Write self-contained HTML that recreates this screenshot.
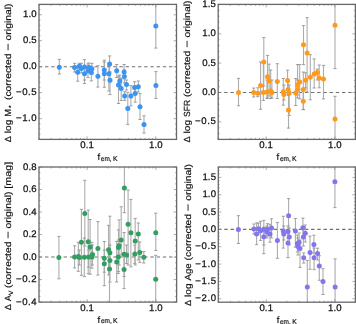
<!DOCTYPE html>
<html><head><meta charset="utf-8"><style>
html,body{margin:0;padding:0;background:#fff;width:356px;height:324px;overflow:hidden}
svg{-webkit-font-smoothing:antialiased;will-change:transform} svg text{font-family:"Liberation Sans", sans-serif;fill:#111;text-rendering:geometricPrecision} .tl{stroke:#111;stroke-width:0.25} .yl{stroke:#111;stroke-width:0.18}
</style></head><body>
<svg width="356" height="324" viewBox="0 0 356 324" style="display:block">
<rect width="356" height="324" fill="#fff"/>
<g><line x1="39.0" y1="66.71" x2="176.5" y2="66.71" stroke="#707070" stroke-width="1.1" stroke-dasharray="3.4 2.8" stroke-dashoffset="0.2"/><line x1="59.3" y1="59.3" x2="59.3" y2="74.0" stroke="#acacac" stroke-width="1.1"/><line x1="57.70" y1="59.3" x2="60.90" y2="59.3" stroke="#8a8a8a" stroke-width="0.8"/><line x1="57.70" y1="74.0" x2="60.90" y2="74.0" stroke="#8a8a8a" stroke-width="0.8"/><line x1="74.6" y1="63.3" x2="74.6" y2="72" stroke="#acacac" stroke-width="1.1"/><line x1="73.00" y1="63.3" x2="76.20" y2="63.3" stroke="#8a8a8a" stroke-width="0.8"/><line x1="73.00" y1="72" x2="76.20" y2="72" stroke="#8a8a8a" stroke-width="0.8"/><line x1="77.7" y1="66" x2="77.7" y2="81.2" stroke="#acacac" stroke-width="1.1"/><line x1="76.10" y1="66" x2="79.30" y2="66" stroke="#8a8a8a" stroke-width="0.8"/><line x1="76.10" y1="81.2" x2="79.30" y2="81.2" stroke="#8a8a8a" stroke-width="0.8"/><line x1="79.3" y1="63.3" x2="79.3" y2="70" stroke="#acacac" stroke-width="1.1"/><line x1="77.70" y1="63.3" x2="80.90" y2="63.3" stroke="#8a8a8a" stroke-width="0.8"/><line x1="77.70" y1="70" x2="80.90" y2="70" stroke="#8a8a8a" stroke-width="0.8"/><line x1="81.4" y1="63.3" x2="81.4" y2="73" stroke="#acacac" stroke-width="1.1"/><line x1="79.80" y1="63.3" x2="83.00" y2="63.3" stroke="#8a8a8a" stroke-width="0.8"/><line x1="79.80" y1="73" x2="83.00" y2="73" stroke="#8a8a8a" stroke-width="0.8"/><line x1="84.5" y1="59.6" x2="84.5" y2="83.6" stroke="#acacac" stroke-width="1.1"/><line x1="82.90" y1="59.6" x2="86.10" y2="59.6" stroke="#8a8a8a" stroke-width="0.8"/><line x1="82.90" y1="83.6" x2="86.10" y2="83.6" stroke="#8a8a8a" stroke-width="0.8"/><line x1="84.5" y1="68" x2="84.5" y2="80" stroke="#acacac" stroke-width="1.1"/><line x1="82.90" y1="68" x2="86.10" y2="68" stroke="#8a8a8a" stroke-width="0.8"/><line x1="82.90" y1="80" x2="86.10" y2="80" stroke="#8a8a8a" stroke-width="0.8"/><line x1="88.0" y1="63.9" x2="88.0" y2="77.5" stroke="#acacac" stroke-width="1.1"/><line x1="86.40" y1="63.9" x2="89.60" y2="63.9" stroke="#8a8a8a" stroke-width="0.8"/><line x1="86.40" y1="77.5" x2="89.60" y2="77.5" stroke="#8a8a8a" stroke-width="0.8"/><line x1="88.8" y1="63" x2="88.8" y2="72" stroke="#acacac" stroke-width="1.1"/><line x1="87.20" y1="63" x2="90.40" y2="63" stroke="#8a8a8a" stroke-width="0.8"/><line x1="87.20" y1="72" x2="90.40" y2="72" stroke="#8a8a8a" stroke-width="0.8"/><line x1="91.3" y1="66" x2="91.3" y2="80.9" stroke="#acacac" stroke-width="1.1"/><line x1="89.70" y1="66" x2="92.90" y2="66" stroke="#8a8a8a" stroke-width="0.8"/><line x1="89.70" y1="80.9" x2="92.90" y2="80.9" stroke="#8a8a8a" stroke-width="0.8"/><line x1="91.9" y1="63.3" x2="91.9" y2="74" stroke="#acacac" stroke-width="1.1"/><line x1="90.30" y1="63.3" x2="93.50" y2="63.3" stroke="#8a8a8a" stroke-width="0.8"/><line x1="90.30" y1="74" x2="93.50" y2="74" stroke="#8a8a8a" stroke-width="0.8"/><line x1="97.9" y1="65.7" x2="97.9" y2="87.1" stroke="#acacac" stroke-width="1.1"/><line x1="96.30" y1="65.7" x2="99.50" y2="65.7" stroke="#8a8a8a" stroke-width="0.8"/><line x1="96.30" y1="87.1" x2="99.50" y2="87.1" stroke="#8a8a8a" stroke-width="0.8"/><line x1="104.3" y1="60.2" x2="104.3" y2="80" stroke="#acacac" stroke-width="1.1"/><line x1="102.70" y1="60.2" x2="105.90" y2="60.2" stroke="#8a8a8a" stroke-width="0.8"/><line x1="102.70" y1="80" x2="105.90" y2="80" stroke="#8a8a8a" stroke-width="0.8"/><line x1="104.3" y1="62" x2="104.3" y2="87.3" stroke="#acacac" stroke-width="1.1"/><line x1="102.70" y1="62" x2="105.90" y2="62" stroke="#8a8a8a" stroke-width="0.8"/><line x1="102.70" y1="87.3" x2="105.90" y2="87.3" stroke="#8a8a8a" stroke-width="0.8"/><line x1="109.6" y1="55.9" x2="109.6" y2="72" stroke="#acacac" stroke-width="1.1"/><line x1="108.00" y1="55.9" x2="111.20" y2="55.9" stroke="#8a8a8a" stroke-width="0.8"/><line x1="108.00" y1="72" x2="111.20" y2="72" stroke="#8a8a8a" stroke-width="0.8"/><line x1="108.9" y1="66" x2="108.9" y2="91" stroke="#acacac" stroke-width="1.1"/><line x1="107.30" y1="66" x2="110.50" y2="66" stroke="#8a8a8a" stroke-width="0.8"/><line x1="107.30" y1="91" x2="110.50" y2="91" stroke="#8a8a8a" stroke-width="0.8"/><line x1="110.0" y1="72" x2="110.0" y2="94.6" stroke="#acacac" stroke-width="1.1"/><line x1="108.40" y1="72" x2="111.60" y2="72" stroke="#8a8a8a" stroke-width="0.8"/><line x1="108.40" y1="94.6" x2="111.60" y2="94.6" stroke="#8a8a8a" stroke-width="0.8"/><line x1="116.7" y1="64.5" x2="116.7" y2="77.5" stroke="#acacac" stroke-width="1.1"/><line x1="115.10" y1="64.5" x2="118.30" y2="64.5" stroke="#8a8a8a" stroke-width="0.8"/><line x1="115.10" y1="77.5" x2="118.30" y2="77.5" stroke="#8a8a8a" stroke-width="0.8"/><line x1="119.8" y1="75" x2="119.8" y2="88" stroke="#acacac" stroke-width="1.1"/><line x1="118.20" y1="75" x2="121.40" y2="75" stroke="#8a8a8a" stroke-width="0.8"/><line x1="118.20" y1="88" x2="121.40" y2="88" stroke="#8a8a8a" stroke-width="0.8"/><line x1="118.5" y1="76" x2="118.5" y2="103.5" stroke="#acacac" stroke-width="1.1"/><line x1="116.90" y1="76" x2="120.10" y2="76" stroke="#8a8a8a" stroke-width="0.8"/><line x1="116.90" y1="103.5" x2="120.10" y2="103.5" stroke="#8a8a8a" stroke-width="0.8"/><line x1="121.2" y1="78" x2="121.2" y2="100.4" stroke="#acacac" stroke-width="1.1"/><line x1="119.60" y1="78" x2="122.80" y2="78" stroke="#8a8a8a" stroke-width="0.8"/><line x1="119.60" y1="100.4" x2="122.80" y2="100.4" stroke="#8a8a8a" stroke-width="0.8"/><line x1="124.1" y1="64.5" x2="124.1" y2="79" stroke="#acacac" stroke-width="1.1"/><line x1="122.50" y1="64.5" x2="125.70" y2="64.5" stroke="#8a8a8a" stroke-width="0.8"/><line x1="122.50" y1="79" x2="125.70" y2="79" stroke="#8a8a8a" stroke-width="0.8"/><line x1="124.4" y1="70" x2="124.4" y2="83" stroke="#acacac" stroke-width="1.1"/><line x1="122.80" y1="70" x2="126.00" y2="70" stroke="#8a8a8a" stroke-width="0.8"/><line x1="122.80" y1="83" x2="126.00" y2="83" stroke="#8a8a8a" stroke-width="0.8"/><line x1="126.5" y1="80" x2="126.5" y2="90" stroke="#acacac" stroke-width="1.1"/><line x1="124.90" y1="80" x2="128.10" y2="80" stroke="#8a8a8a" stroke-width="0.8"/><line x1="124.90" y1="90" x2="128.10" y2="90" stroke="#8a8a8a" stroke-width="0.8"/><line x1="124.7" y1="91.7" x2="124.7" y2="100.4" stroke="#acacac" stroke-width="1.1"/><line x1="123.10" y1="91.7" x2="126.30" y2="91.7" stroke="#8a8a8a" stroke-width="0.8"/><line x1="123.10" y1="100.4" x2="126.30" y2="100.4" stroke="#8a8a8a" stroke-width="0.8"/><line x1="130.9" y1="85.6" x2="130.9" y2="105.9" stroke="#acacac" stroke-width="1.1"/><line x1="129.30" y1="85.6" x2="132.50" y2="85.6" stroke="#8a8a8a" stroke-width="0.8"/><line x1="129.30" y1="105.9" x2="132.50" y2="105.9" stroke="#8a8a8a" stroke-width="0.8"/><line x1="127.8" y1="92.3" x2="127.8" y2="124.4" stroke="#acacac" stroke-width="1.1"/><line x1="126.20" y1="92.3" x2="129.40" y2="92.3" stroke="#8a8a8a" stroke-width="0.8"/><line x1="126.20" y1="124.4" x2="129.40" y2="124.4" stroke="#8a8a8a" stroke-width="0.8"/><line x1="134.6" y1="81.7" x2="134.6" y2="93" stroke="#acacac" stroke-width="1.1"/><line x1="133.00" y1="81.7" x2="136.20" y2="81.7" stroke="#8a8a8a" stroke-width="0.8"/><line x1="133.00" y1="93" x2="136.20" y2="93" stroke="#8a8a8a" stroke-width="0.8"/><line x1="138.3" y1="81" x2="138.3" y2="92" stroke="#acacac" stroke-width="1.1"/><line x1="136.70" y1="81" x2="139.90" y2="81" stroke="#8a8a8a" stroke-width="0.8"/><line x1="136.70" y1="92" x2="139.90" y2="92" stroke="#8a8a8a" stroke-width="0.8"/><line x1="135.2" y1="86" x2="135.2" y2="102.2" stroke="#acacac" stroke-width="1.1"/><line x1="133.60" y1="86" x2="136.80" y2="86" stroke="#8a8a8a" stroke-width="0.8"/><line x1="133.60" y1="102.2" x2="136.80" y2="102.2" stroke="#8a8a8a" stroke-width="0.8"/><line x1="140.0" y1="93.6" x2="140.0" y2="119.5" stroke="#acacac" stroke-width="1.1"/><line x1="138.40" y1="93.6" x2="141.60" y2="93.6" stroke="#8a8a8a" stroke-width="0.8"/><line x1="138.40" y1="119.5" x2="141.60" y2="119.5" stroke="#8a8a8a" stroke-width="0.8"/><line x1="144.0" y1="115.8" x2="144.0" y2="133" stroke="#acacac" stroke-width="1.1"/><line x1="142.40" y1="115.8" x2="145.60" y2="115.8" stroke="#8a8a8a" stroke-width="0.8"/><line x1="142.40" y1="133" x2="145.60" y2="133" stroke="#8a8a8a" stroke-width="0.8"/><line x1="155.9" y1="71.6" x2="155.9" y2="98.5" stroke="#acacac" stroke-width="1.1"/><line x1="154.30" y1="71.6" x2="157.50" y2="71.6" stroke="#8a8a8a" stroke-width="0.8"/><line x1="154.30" y1="98.5" x2="157.50" y2="98.5" stroke="#8a8a8a" stroke-width="0.8"/><line x1="155.8" y1="4.4" x2="155.8" y2="48.1" stroke="#acacac" stroke-width="1.1"/><line x1="154.20" y1="48.1" x2="157.40" y2="48.1" stroke="#8a8a8a" stroke-width="0.8"/><circle cx="59.3" cy="67.2" r="2.5" fill="#3a94f0"/><circle cx="74.6" cy="67.6" r="2.5" fill="#3a94f0"/><circle cx="77.7" cy="72.3" r="2.5" fill="#3a94f0"/><circle cx="79.3" cy="66.3" r="2.5" fill="#3a94f0"/><circle cx="81.4" cy="68.6" r="2.5" fill="#3a94f0"/><circle cx="84.5" cy="67.0" r="2.5" fill="#3a94f0"/><circle cx="84.5" cy="73.8" r="2.5" fill="#3a94f0"/><circle cx="88.0" cy="70.7" r="2.5" fill="#3a94f0"/><circle cx="88.8" cy="67.6" r="2.5" fill="#3a94f0"/><circle cx="91.3" cy="72.5" r="2.5" fill="#3a94f0"/><circle cx="91.9" cy="68.8" r="2.5" fill="#3a94f0"/><circle cx="97.9" cy="76.2" r="2.5" fill="#3a94f0"/><circle cx="104.3" cy="70.0" r="2.5" fill="#3a94f0"/><circle cx="104.3" cy="73.8" r="2.5" fill="#3a94f0"/><circle cx="109.6" cy="64.1" r="2.5" fill="#3a94f0"/><circle cx="108.9" cy="73.8" r="2.5" fill="#3a94f0"/><circle cx="110.0" cy="80.3" r="2.5" fill="#3a94f0"/><circle cx="116.7" cy="70.7" r="2.5" fill="#3a94f0"/><circle cx="119.8" cy="81.0" r="2.5" fill="#3a94f0"/><circle cx="118.5" cy="84.9" r="2.5" fill="#3a94f0"/><circle cx="121.2" cy="88.4" r="2.5" fill="#3a94f0"/><circle cx="124.1" cy="71.9" r="2.5" fill="#3a94f0"/><circle cx="124.4" cy="76.5" r="2.5" fill="#3a94f0"/><circle cx="126.5" cy="84.5" r="2.5" fill="#3a94f0"/><circle cx="124.7" cy="96.0" r="2.5" fill="#3a94f0"/><circle cx="130.9" cy="96.0" r="2.5" fill="#3a94f0"/><circle cx="127.8" cy="108.4" r="2.5" fill="#3a94f0"/><circle cx="134.6" cy="87.5" r="2.5" fill="#3a94f0"/><circle cx="138.3" cy="86.8" r="2.5" fill="#3a94f0"/><circle cx="135.2" cy="93.6" r="2.5" fill="#3a94f0"/><circle cx="140.0" cy="106.7" r="2.5" fill="#3a94f0"/><circle cx="144.0" cy="124.4" r="2.5" fill="#3a94f0"/><circle cx="155.9" cy="85.6" r="2.5" fill="#3a94f0"/><circle cx="155.8" cy="25.9" r="2.5" fill="#3a94f0"/><path d="M39.0 139.40h1.5M176.5 139.40h-1.5M39.0 134.21h1.5M176.5 134.21h-1.5M39.0 129.02h1.5M176.5 129.02h-1.5M39.0 123.82h1.5M176.5 123.82h-1.5M39.0 118.63h3.0M176.5 118.63h-3.0M39.0 113.44h1.5M176.5 113.44h-1.5M39.0 108.25h1.5M176.5 108.25h-1.5M39.0 103.05h1.5M176.5 103.05h-1.5M39.0 97.86h1.5M176.5 97.86h-1.5M39.0 92.67h3.0M176.5 92.67h-3.0M39.0 87.48h1.5M176.5 87.48h-1.5M39.0 82.28h1.5M176.5 82.28h-1.5M39.0 77.09h1.5M176.5 77.09h-1.5M39.0 71.90h1.5M176.5 71.90h-1.5M39.0 66.71h3.0M176.5 66.71h-3.0M39.0 61.52h1.5M176.5 61.52h-1.5M39.0 56.32h1.5M176.5 56.32h-1.5M39.0 51.13h1.5M176.5 51.13h-1.5M39.0 45.94h1.5M176.5 45.94h-1.5M39.0 40.75h3.0M176.5 40.75h-3.0M39.0 35.55h1.5M176.5 35.55h-1.5M39.0 30.36h1.5M176.5 30.36h-1.5M39.0 25.17h1.5M176.5 25.17h-1.5M39.0 19.98h1.5M176.5 19.98h-1.5M39.0 14.78h3.0M176.5 14.78h-3.0M39.0 9.59h1.5M176.5 9.59h-1.5M39.0 4.40h1.5M176.5 4.40h-1.5M39.00 139.4v-1.5M39.00 4.4v1.5M51.11 139.4v-1.5M51.11 4.4v1.5M59.70 139.4v-1.5M59.70 4.4v1.5M66.36 139.4v-1.5M66.36 4.4v1.5M71.80 139.4v-1.5M71.80 4.4v1.5M76.40 139.4v-1.5M76.40 4.4v1.5M80.39 139.4v-1.5M80.39 4.4v1.5M83.91 139.4v-1.5M83.91 4.4v1.5M87.05 139.4v-3.0M87.05 4.4v3.0M107.75 139.4v-1.5M107.75 4.4v1.5M119.86 139.4v-1.5M119.86 4.4v1.5M128.45 139.4v-1.5M128.45 4.4v1.5M135.11 139.4v-1.5M135.11 4.4v1.5M140.55 139.4v-1.5M140.55 4.4v1.5M145.15 139.4v-1.5M145.15 4.4v1.5M149.14 139.4v-1.5M149.14 4.4v1.5M152.66 139.4v-1.5M152.66 4.4v1.5M155.80 139.4v-3.0M155.80 4.4v3.0M176.50 139.4v-1.5M176.50 4.4v1.5" stroke="#8a8a8a" stroke-width="0.7" fill="none"/><rect x="39.0" y="4.4" width="137.5" height="135.0" fill="none" stroke="#686868" stroke-width="1.3"/><text x="36.70" y="17.28" text-anchor="end" font-size="9.6" textLength="13.61" lengthAdjust="spacing" class="tl">1.0</text><text x="36.70" y="43.25" text-anchor="end" font-size="9.6" textLength="13.61" lengthAdjust="spacing" class="tl">0.5</text><text x="36.70" y="69.21" text-anchor="end" font-size="9.6" textLength="13.61" lengthAdjust="spacing" class="tl">0.0</text><text x="36.70" y="95.17" text-anchor="end" font-size="9.6" textLength="20.78" lengthAdjust="spacing" class="tl">−0.5</text><text x="36.70" y="121.13" text-anchor="end" font-size="9.6" textLength="20.78" lengthAdjust="spacing" class="tl">−1.0</text><text x="87.05" y="148.30" text-anchor="middle" font-size="9.6" textLength="13.61" lengthAdjust="spacing" class="tl">0.1</text><text x="155.80" y="148.30" text-anchor="middle" font-size="9.6" textLength="13.61" lengthAdjust="spacing" class="tl">1.0</text><text x="97.55" y="160.00" font-size="9.4" class="yl">f</text><text x="100.85" y="160.70" font-size="7.0" textLength="10.8" lengthAdjust="spacingAndGlyphs" class="yl">em,</text><text x="113.05" y="160.70" font-size="7.0" textLength="4.6" lengthAdjust="spacingAndGlyphs" class="yl">K</text><g transform="translate(11.20,142.20) rotate(-90)"><text x="0.00" y="0" font-size="8.86" textLength="6.12" lengthAdjust="spacingAndGlyphs" class="yl">Δ</text><text x="8.97" y="0" font-size="8.86" textLength="13.64" lengthAdjust="spacingAndGlyphs" class="yl">log</text><text x="25.46" y="0" font-size="8.86" textLength="7.72" lengthAdjust="spacingAndGlyphs" class="yl">M</text><text x="33.56" y="1.0" font-size="6.65" textLength="4.20" lengthAdjust="spacingAndGlyphs" class="yl">⋆</text><text x="42.24" y="0" font-size="8.86" textLength="46.37" lengthAdjust="spacingAndGlyphs" class="yl">(corrected</text><text x="91.46" y="0" font-size="8.86" textLength="7.50" lengthAdjust="spacingAndGlyphs" class="yl">−</text><text x="101.80" y="0" font-size="8.86" textLength="36.94" lengthAdjust="spacingAndGlyphs" class="yl">original)</text></g></g>
<g><line x1="218.2" y1="92.44" x2="355.4" y2="92.44" stroke="#707070" stroke-width="1.1" stroke-dasharray="3.4 2.8" stroke-dashoffset="0.2"/><line x1="238.5" y1="78.4" x2="238.5" y2="105.8" stroke="#acacac" stroke-width="1.1"/><line x1="236.90" y1="78.4" x2="240.10" y2="78.4" stroke="#8a8a8a" stroke-width="0.8"/><line x1="236.90" y1="105.8" x2="240.10" y2="105.8" stroke="#8a8a8a" stroke-width="0.8"/><line x1="253.7" y1="88" x2="253.7" y2="97" stroke="#acacac" stroke-width="1.1"/><line x1="252.10" y1="88" x2="255.30" y2="88" stroke="#8a8a8a" stroke-width="0.8"/><line x1="252.10" y1="97" x2="255.30" y2="97" stroke="#8a8a8a" stroke-width="0.8"/><line x1="257.8" y1="87.8" x2="257.8" y2="96.7" stroke="#acacac" stroke-width="1.1"/><line x1="256.20" y1="87.8" x2="259.40" y2="87.8" stroke="#8a8a8a" stroke-width="0.8"/><line x1="256.20" y1="96.7" x2="259.40" y2="96.7" stroke="#8a8a8a" stroke-width="0.8"/><line x1="260.6" y1="62" x2="260.6" y2="109.3" stroke="#acacac" stroke-width="1.1"/><line x1="259.00" y1="62" x2="262.20" y2="62" stroke="#8a8a8a" stroke-width="0.8"/><line x1="259.00" y1="109.3" x2="262.20" y2="109.3" stroke="#8a8a8a" stroke-width="0.8"/><line x1="263.4" y1="63.5" x2="263.4" y2="100.4" stroke="#acacac" stroke-width="1.1"/><line x1="261.80" y1="63.5" x2="265.00" y2="63.5" stroke="#8a8a8a" stroke-width="0.8"/><line x1="261.80" y1="100.4" x2="265.00" y2="100.4" stroke="#8a8a8a" stroke-width="0.8"/><line x1="263.8" y1="37.6" x2="263.8" y2="86" stroke="#acacac" stroke-width="1.1"/><line x1="262.20" y1="37.6" x2="265.40" y2="37.6" stroke="#8a8a8a" stroke-width="0.8"/><line x1="262.20" y1="86" x2="265.40" y2="86" stroke="#8a8a8a" stroke-width="0.8"/><line x1="267.0" y1="80" x2="267.0" y2="98.5" stroke="#acacac" stroke-width="1.1"/><line x1="265.40" y1="80" x2="268.60" y2="80" stroke="#8a8a8a" stroke-width="0.8"/><line x1="265.40" y1="98.5" x2="268.60" y2="98.5" stroke="#8a8a8a" stroke-width="0.8"/><line x1="267.5" y1="55.4" x2="267.5" y2="98" stroke="#acacac" stroke-width="1.1"/><line x1="265.90" y1="55.4" x2="269.10" y2="55.4" stroke="#8a8a8a" stroke-width="0.8"/><line x1="265.90" y1="98" x2="269.10" y2="98" stroke="#8a8a8a" stroke-width="0.8"/><line x1="269.1" y1="64.1" x2="269.1" y2="96" stroke="#acacac" stroke-width="1.1"/><line x1="267.50" y1="64.1" x2="270.70" y2="64.1" stroke="#8a8a8a" stroke-width="0.8"/><line x1="267.50" y1="96" x2="270.70" y2="96" stroke="#8a8a8a" stroke-width="0.8"/><line x1="270.7" y1="70" x2="270.7" y2="98.5" stroke="#acacac" stroke-width="1.1"/><line x1="269.10" y1="70" x2="272.30" y2="70" stroke="#8a8a8a" stroke-width="0.8"/><line x1="269.10" y1="98.5" x2="272.30" y2="98.5" stroke="#8a8a8a" stroke-width="0.8"/><line x1="271.9" y1="80" x2="271.9" y2="98" stroke="#acacac" stroke-width="1.1"/><line x1="270.30" y1="80" x2="273.50" y2="80" stroke="#8a8a8a" stroke-width="0.8"/><line x1="270.30" y1="98" x2="273.50" y2="98" stroke="#8a8a8a" stroke-width="0.8"/><line x1="277.3" y1="63.7" x2="277.3" y2="98.5" stroke="#acacac" stroke-width="1.1"/><line x1="275.70" y1="63.7" x2="278.90" y2="63.7" stroke="#8a8a8a" stroke-width="0.8"/><line x1="275.70" y1="98.5" x2="278.90" y2="98.5" stroke="#8a8a8a" stroke-width="0.8"/><line x1="283.3" y1="78.5" x2="283.3" y2="105.2" stroke="#acacac" stroke-width="1.1"/><line x1="281.70" y1="78.5" x2="284.90" y2="78.5" stroke="#8a8a8a" stroke-width="0.8"/><line x1="281.70" y1="105.2" x2="284.90" y2="105.2" stroke="#8a8a8a" stroke-width="0.8"/><line x1="283.9" y1="85" x2="283.9" y2="100" stroke="#acacac" stroke-width="1.1"/><line x1="282.30" y1="85" x2="285.50" y2="85" stroke="#8a8a8a" stroke-width="0.8"/><line x1="282.30" y1="100" x2="285.50" y2="100" stroke="#8a8a8a" stroke-width="0.8"/><line x1="287.6" y1="70.2" x2="287.6" y2="90" stroke="#acacac" stroke-width="1.1"/><line x1="286.00" y1="70.2" x2="289.20" y2="70.2" stroke="#8a8a8a" stroke-width="0.8"/><line x1="286.00" y1="90" x2="289.20" y2="90" stroke="#8a8a8a" stroke-width="0.8"/><line x1="288.1" y1="80" x2="288.1" y2="95" stroke="#acacac" stroke-width="1.1"/><line x1="286.50" y1="80" x2="289.70" y2="80" stroke="#8a8a8a" stroke-width="0.8"/><line x1="286.50" y1="95" x2="289.70" y2="95" stroke="#8a8a8a" stroke-width="0.8"/><line x1="289.2" y1="85" x2="289.2" y2="115.5" stroke="#acacac" stroke-width="1.1"/><line x1="287.60" y1="85" x2="290.80" y2="85" stroke="#8a8a8a" stroke-width="0.8"/><line x1="287.60" y1="115.5" x2="290.80" y2="115.5" stroke="#8a8a8a" stroke-width="0.8"/><line x1="288.5" y1="95" x2="288.5" y2="128.1" stroke="#acacac" stroke-width="1.1"/><line x1="286.90" y1="95" x2="290.10" y2="95" stroke="#8a8a8a" stroke-width="0.8"/><line x1="286.90" y1="128.1" x2="290.10" y2="128.1" stroke="#8a8a8a" stroke-width="0.8"/><line x1="295.7" y1="78.5" x2="295.7" y2="105.5" stroke="#acacac" stroke-width="1.1"/><line x1="294.10" y1="78.5" x2="297.30" y2="78.5" stroke="#8a8a8a" stroke-width="0.8"/><line x1="294.10" y1="105.5" x2="297.30" y2="105.5" stroke="#8a8a8a" stroke-width="0.8"/><line x1="297.6" y1="64.6" x2="297.6" y2="95" stroke="#acacac" stroke-width="1.1"/><line x1="296.00" y1="64.6" x2="299.20" y2="64.6" stroke="#8a8a8a" stroke-width="0.8"/><line x1="296.00" y1="95" x2="299.20" y2="95" stroke="#8a8a8a" stroke-width="0.8"/><line x1="297.6" y1="80" x2="297.6" y2="98" stroke="#acacac" stroke-width="1.1"/><line x1="296.00" y1="80" x2="299.20" y2="80" stroke="#8a8a8a" stroke-width="0.8"/><line x1="296.00" y1="98" x2="299.20" y2="98" stroke="#8a8a8a" stroke-width="0.8"/><line x1="299.7" y1="64.6" x2="299.7" y2="98.9" stroke="#acacac" stroke-width="1.1"/><line x1="298.10" y1="64.6" x2="301.30" y2="64.6" stroke="#8a8a8a" stroke-width="0.8"/><line x1="298.10" y1="98.9" x2="301.30" y2="98.9" stroke="#8a8a8a" stroke-width="0.8"/><line x1="303.3" y1="72" x2="303.3" y2="109.6" stroke="#acacac" stroke-width="1.1"/><line x1="301.70" y1="72" x2="304.90" y2="72" stroke="#8a8a8a" stroke-width="0.8"/><line x1="301.70" y1="109.6" x2="304.90" y2="109.6" stroke="#8a8a8a" stroke-width="0.8"/><line x1="303.3" y1="90" x2="303.3" y2="109.6" stroke="#acacac" stroke-width="1.1"/><line x1="301.70" y1="90" x2="304.90" y2="90" stroke="#8a8a8a" stroke-width="0.8"/><line x1="301.70" y1="109.6" x2="304.90" y2="109.6" stroke="#8a8a8a" stroke-width="0.8"/><line x1="303.5" y1="25.6" x2="303.5" y2="64.6" stroke="#acacac" stroke-width="1.1"/><line x1="301.90" y1="25.6" x2="305.10" y2="25.6" stroke="#8a8a8a" stroke-width="0.8"/><line x1="301.90" y1="64.6" x2="305.10" y2="64.6" stroke="#8a8a8a" stroke-width="0.8"/><line x1="305.6" y1="72.8" x2="305.6" y2="88" stroke="#acacac" stroke-width="1.1"/><line x1="304.00" y1="72.8" x2="307.20" y2="72.8" stroke="#8a8a8a" stroke-width="0.8"/><line x1="304.00" y1="88" x2="307.20" y2="88" stroke="#8a8a8a" stroke-width="0.8"/><line x1="307.1" y1="17.6" x2="307.1" y2="92" stroke="#acacac" stroke-width="1.1"/><line x1="305.50" y1="17.6" x2="308.70" y2="17.6" stroke="#8a8a8a" stroke-width="0.8"/><line x1="305.50" y1="92" x2="308.70" y2="92" stroke="#8a8a8a" stroke-width="0.8"/><line x1="310.3" y1="54.7" x2="310.3" y2="99.8" stroke="#acacac" stroke-width="1.1"/><line x1="308.70" y1="54.7" x2="311.90" y2="54.7" stroke="#8a8a8a" stroke-width="0.8"/><line x1="308.70" y1="99.8" x2="311.90" y2="99.8" stroke="#8a8a8a" stroke-width="0.8"/><line x1="314.2" y1="58.9" x2="314.2" y2="88" stroke="#acacac" stroke-width="1.1"/><line x1="312.60" y1="58.9" x2="315.80" y2="58.9" stroke="#8a8a8a" stroke-width="0.8"/><line x1="312.60" y1="88" x2="315.80" y2="88" stroke="#8a8a8a" stroke-width="0.8"/><line x1="317.3" y1="69.1" x2="317.3" y2="80" stroke="#acacac" stroke-width="1.1"/><line x1="315.70" y1="69.1" x2="318.90" y2="69.1" stroke="#8a8a8a" stroke-width="0.8"/><line x1="315.70" y1="80" x2="318.90" y2="80" stroke="#8a8a8a" stroke-width="0.8"/><line x1="319.2" y1="65" x2="319.2" y2="87.8" stroke="#acacac" stroke-width="1.1"/><line x1="317.60" y1="65" x2="320.80" y2="65" stroke="#8a8a8a" stroke-width="0.8"/><line x1="317.60" y1="87.8" x2="320.80" y2="87.8" stroke="#8a8a8a" stroke-width="0.8"/><line x1="323.5" y1="65.4" x2="323.5" y2="98.9" stroke="#acacac" stroke-width="1.1"/><line x1="321.90" y1="65.4" x2="325.10" y2="65.4" stroke="#8a8a8a" stroke-width="0.8"/><line x1="321.90" y1="98.9" x2="325.10" y2="98.9" stroke="#8a8a8a" stroke-width="0.8"/><line x1="335.0" y1="4.4" x2="335.0" y2="68.6" stroke="#acacac" stroke-width="1.1"/><line x1="333.40" y1="68.6" x2="336.60" y2="68.6" stroke="#8a8a8a" stroke-width="0.8"/><line x1="335.0" y1="96.3" x2="335.0" y2="139.4" stroke="#acacac" stroke-width="1.1"/><line x1="333.40" y1="96.3" x2="336.60" y2="96.3" stroke="#8a8a8a" stroke-width="0.8"/><circle cx="238.5" cy="92.4" r="2.5" fill="#ff991c"/><circle cx="253.7" cy="92.6" r="2.5" fill="#ff991c"/><circle cx="257.8" cy="93.3" r="2.5" fill="#ff991c"/><circle cx="260.6" cy="85.5" r="2.5" fill="#ff991c"/><circle cx="263.4" cy="92.6" r="2.5" fill="#ff991c"/><circle cx="263.8" cy="62.0" r="2.5" fill="#ff991c"/><circle cx="267.0" cy="92.0" r="2.5" fill="#ff991c"/><circle cx="267.5" cy="76.8" r="2.5" fill="#ff991c"/><circle cx="269.1" cy="80.9" r="2.5" fill="#ff991c"/><circle cx="270.7" cy="90.7" r="2.5" fill="#ff991c"/><circle cx="271.9" cy="92.6" r="2.5" fill="#ff991c"/><circle cx="277.3" cy="81.6" r="2.5" fill="#ff991c"/><circle cx="283.3" cy="91.7" r="2.5" fill="#ff991c"/><circle cx="283.9" cy="94.4" r="2.5" fill="#ff991c"/><circle cx="287.6" cy="80.4" r="2.5" fill="#ff991c"/><circle cx="288.1" cy="89.4" r="2.5" fill="#ff991c"/><circle cx="289.2" cy="93.0" r="2.5" fill="#ff991c"/><circle cx="288.5" cy="110.0" r="2.5" fill="#ff991c"/><circle cx="295.7" cy="93.0" r="2.5" fill="#ff991c"/><circle cx="297.6" cy="84.8" r="2.5" fill="#ff991c"/><circle cx="297.6" cy="89.5" r="2.5" fill="#ff991c"/><circle cx="299.7" cy="81.9" r="2.5" fill="#ff991c"/><circle cx="303.3" cy="89.6" r="2.5" fill="#ff991c"/><circle cx="303.3" cy="101.3" r="2.5" fill="#ff991c"/><circle cx="303.5" cy="44.8" r="2.5" fill="#ff991c"/><circle cx="305.6" cy="80.2" r="2.5" fill="#ff991c"/><circle cx="307.1" cy="53.0" r="2.5" fill="#ff991c"/><circle cx="310.3" cy="77.2" r="2.5" fill="#ff991c"/><circle cx="314.2" cy="74.1" r="2.5" fill="#ff991c"/><circle cx="317.3" cy="72.6" r="2.5" fill="#ff991c"/><circle cx="319.2" cy="78.1" r="2.5" fill="#ff991c"/><circle cx="323.5" cy="79.0" r="2.5" fill="#ff991c"/><circle cx="335.0" cy="25.2" r="2.5" fill="#ff991c"/><circle cx="335.0" cy="118.9" r="2.5" fill="#ff991c"/><path d="M218.2 139.40h1.5M355.4 139.40h-1.5M218.2 133.53h1.5M355.4 133.53h-1.5M218.2 127.66h1.5M355.4 127.66h-1.5M218.2 121.79h3.0M355.4 121.79h-3.0M218.2 115.92h1.5M355.4 115.92h-1.5M218.2 110.05h1.5M355.4 110.05h-1.5M218.2 104.18h1.5M355.4 104.18h-1.5M218.2 98.31h1.5M355.4 98.31h-1.5M218.2 92.44h3.0M355.4 92.44h-3.0M218.2 86.57h1.5M355.4 86.57h-1.5M218.2 80.70h1.5M355.4 80.70h-1.5M218.2 74.83h1.5M355.4 74.83h-1.5M218.2 68.97h1.5M355.4 68.97h-1.5M218.2 63.10h3.0M355.4 63.10h-3.0M218.2 57.23h1.5M355.4 57.23h-1.5M218.2 51.36h1.5M355.4 51.36h-1.5M218.2 45.49h1.5M355.4 45.49h-1.5M218.2 39.62h1.5M355.4 39.62h-1.5M218.2 33.75h3.0M355.4 33.75h-3.0M218.2 27.88h1.5M355.4 27.88h-1.5M218.2 22.01h1.5M355.4 22.01h-1.5M218.2 16.14h1.5M355.4 16.14h-1.5M218.2 10.27h1.5M355.4 10.27h-1.5M218.2 4.40h3.0M355.4 4.40h-3.0M218.20 139.4v-1.5M218.20 4.4v1.5M230.28 139.4v-1.5M230.28 4.4v1.5M238.85 139.4v-1.5M238.85 4.4v1.5M245.50 139.4v-1.5M245.50 4.4v1.5M250.93 139.4v-1.5M250.93 4.4v1.5M255.52 139.4v-1.5M255.52 4.4v1.5M259.50 139.4v-1.5M259.50 4.4v1.5M263.01 139.4v-1.5M263.01 4.4v1.5M266.15 139.4v-3.0M266.15 4.4v3.0M286.80 139.4v-1.5M286.80 4.4v1.5M298.88 139.4v-1.5M298.88 4.4v1.5M307.45 139.4v-1.5M307.45 4.4v1.5M314.10 139.4v-1.5M314.10 4.4v1.5M319.53 139.4v-1.5M319.53 4.4v1.5M324.12 139.4v-1.5M324.12 4.4v1.5M328.10 139.4v-1.5M328.10 4.4v1.5M331.61 139.4v-1.5M331.61 4.4v1.5M334.75 139.4v-3.0M334.75 4.4v3.0M355.40 139.4v-1.5M355.40 4.4v1.5" stroke="#8a8a8a" stroke-width="0.7" fill="none"/><rect x="218.2" y="4.4" width="137.2" height="135.0" fill="none" stroke="#686868" stroke-width="1.3"/><text x="215.90" y="6.90" text-anchor="end" font-size="9.6" textLength="13.61" lengthAdjust="spacing" class="tl">1.5</text><text x="215.90" y="36.25" text-anchor="end" font-size="9.6" textLength="13.61" lengthAdjust="spacing" class="tl">1.0</text><text x="215.90" y="65.60" text-anchor="end" font-size="9.6" textLength="13.61" lengthAdjust="spacing" class="tl">0.5</text><text x="215.90" y="94.94" text-anchor="end" font-size="9.6" textLength="13.61" lengthAdjust="spacing" class="tl">0.0</text><text x="215.90" y="124.29" text-anchor="end" font-size="9.6" textLength="20.78" lengthAdjust="spacing" class="tl">−0.5</text><text x="266.15" y="148.30" text-anchor="middle" font-size="9.6" textLength="13.61" lengthAdjust="spacing" class="tl">0.1</text><text x="334.75" y="148.30" text-anchor="middle" font-size="9.6" textLength="13.61" lengthAdjust="spacing" class="tl">1.0</text><text x="276.60" y="160.00" font-size="9.4" class="yl">f</text><text x="279.90" y="160.70" font-size="7.0" textLength="10.8" lengthAdjust="spacingAndGlyphs" class="yl">em,</text><text x="292.10" y="160.70" font-size="7.0" textLength="4.6" lengthAdjust="spacingAndGlyphs" class="yl">K</text><g transform="translate(190.40,142.40) rotate(-90)"><text x="0.00" y="0" font-size="8.86" textLength="6.12" lengthAdjust="spacingAndGlyphs" class="yl">Δ</text><text x="8.97" y="0" font-size="8.86" textLength="13.64" lengthAdjust="spacingAndGlyphs" class="yl">log</text><text x="25.46" y="0" font-size="8.86" textLength="17.05" lengthAdjust="spacingAndGlyphs" class="yl">SFR</text><text x="45.35" y="0" font-size="8.86" textLength="46.37" lengthAdjust="spacingAndGlyphs" class="yl">(corrected</text><text x="94.56" y="0" font-size="8.86" textLength="7.50" lengthAdjust="spacingAndGlyphs" class="yl">−</text><text x="104.91" y="0" font-size="8.86" textLength="36.94" lengthAdjust="spacingAndGlyphs" class="yl">original)</text></g></g>
<g><line x1="39.0" y1="257.07" x2="176.6" y2="257.07" stroke="#707070" stroke-width="1.1" stroke-dasharray="3.4 2.8" stroke-dashoffset="0.2"/><line x1="58.9" y1="236.4" x2="58.9" y2="278.8" stroke="#acacac" stroke-width="1.1"/><line x1="57.30" y1="236.4" x2="60.50" y2="236.4" stroke="#8a8a8a" stroke-width="0.8"/><line x1="57.30" y1="278.8" x2="60.50" y2="278.8" stroke="#8a8a8a" stroke-width="0.8"/><line x1="74.6" y1="245.8" x2="74.6" y2="267.9" stroke="#acacac" stroke-width="1.1"/><line x1="73.00" y1="245.8" x2="76.20" y2="245.8" stroke="#8a8a8a" stroke-width="0.8"/><line x1="73.00" y1="267.9" x2="76.20" y2="267.9" stroke="#8a8a8a" stroke-width="0.8"/><line x1="78.3" y1="242.3" x2="78.3" y2="271.3" stroke="#acacac" stroke-width="1.1"/><line x1="76.70" y1="242.3" x2="79.90" y2="242.3" stroke="#8a8a8a" stroke-width="0.8"/><line x1="76.70" y1="271.3" x2="79.90" y2="271.3" stroke="#8a8a8a" stroke-width="0.8"/><line x1="79.3" y1="250" x2="79.3" y2="265" stroke="#acacac" stroke-width="1.1"/><line x1="77.70" y1="250" x2="80.90" y2="250" stroke="#8a8a8a" stroke-width="0.8"/><line x1="77.70" y1="265" x2="80.90" y2="265" stroke="#8a8a8a" stroke-width="0.8"/><line x1="81.4" y1="209.3" x2="81.4" y2="275.3" stroke="#acacac" stroke-width="1.1"/><line x1="79.80" y1="209.3" x2="83.00" y2="209.3" stroke="#8a8a8a" stroke-width="0.8"/><line x1="79.80" y1="275.3" x2="83.00" y2="275.3" stroke="#8a8a8a" stroke-width="0.8"/><line x1="84.8" y1="180.3" x2="84.8" y2="246" stroke="#acacac" stroke-width="1.1"/><line x1="83.20" y1="180.3" x2="86.40" y2="180.3" stroke="#8a8a8a" stroke-width="0.8"/><line x1="83.20" y1="246" x2="86.40" y2="246" stroke="#8a8a8a" stroke-width="0.8"/><line x1="84.3" y1="238" x2="84.3" y2="276.6" stroke="#acacac" stroke-width="1.1"/><line x1="82.70" y1="238" x2="85.90" y2="238" stroke="#8a8a8a" stroke-width="0.8"/><line x1="82.70" y1="276.6" x2="85.90" y2="276.6" stroke="#8a8a8a" stroke-width="0.8"/><line x1="88.2" y1="210.1" x2="88.2" y2="273.7" stroke="#acacac" stroke-width="1.1"/><line x1="86.60" y1="210.1" x2="89.80" y2="210.1" stroke="#8a8a8a" stroke-width="0.8"/><line x1="86.60" y1="273.7" x2="89.80" y2="273.7" stroke="#8a8a8a" stroke-width="0.8"/><line x1="88.5" y1="250" x2="88.5" y2="267.2" stroke="#acacac" stroke-width="1.1"/><line x1="86.90" y1="250" x2="90.10" y2="250" stroke="#8a8a8a" stroke-width="0.8"/><line x1="86.90" y1="267.2" x2="90.10" y2="267.2" stroke="#8a8a8a" stroke-width="0.8"/><line x1="90.1" y1="219.5" x2="90.1" y2="274.3" stroke="#acacac" stroke-width="1.1"/><line x1="88.50" y1="219.5" x2="91.70" y2="219.5" stroke="#8a8a8a" stroke-width="0.8"/><line x1="88.50" y1="274.3" x2="91.70" y2="274.3" stroke="#8a8a8a" stroke-width="0.8"/><line x1="91.9" y1="242.3" x2="91.9" y2="268.2" stroke="#acacac" stroke-width="1.1"/><line x1="90.30" y1="242.3" x2="93.50" y2="242.3" stroke="#8a8a8a" stroke-width="0.8"/><line x1="90.30" y1="268.2" x2="93.50" y2="268.2" stroke="#8a8a8a" stroke-width="0.8"/><line x1="92.5" y1="245" x2="92.5" y2="265" stroke="#acacac" stroke-width="1.1"/><line x1="90.90" y1="245" x2="94.10" y2="245" stroke="#8a8a8a" stroke-width="0.8"/><line x1="90.90" y1="265" x2="94.10" y2="265" stroke="#8a8a8a" stroke-width="0.8"/><line x1="97.9" y1="221.6" x2="97.9" y2="275.1" stroke="#acacac" stroke-width="1.1"/><line x1="96.30" y1="221.6" x2="99.50" y2="221.6" stroke="#8a8a8a" stroke-width="0.8"/><line x1="96.30" y1="275.1" x2="99.50" y2="275.1" stroke="#8a8a8a" stroke-width="0.8"/><line x1="104.3" y1="241.5" x2="104.3" y2="272.2" stroke="#acacac" stroke-width="1.1"/><line x1="102.70" y1="241.5" x2="105.90" y2="241.5" stroke="#8a8a8a" stroke-width="0.8"/><line x1="102.70" y1="272.2" x2="105.90" y2="272.2" stroke="#8a8a8a" stroke-width="0.8"/><line x1="104.3" y1="250" x2="104.3" y2="285.7" stroke="#acacac" stroke-width="1.1"/><line x1="102.70" y1="250" x2="105.90" y2="250" stroke="#8a8a8a" stroke-width="0.8"/><line x1="102.70" y1="285.7" x2="105.90" y2="285.7" stroke="#8a8a8a" stroke-width="0.8"/><line x1="108.6" y1="225.4" x2="108.6" y2="275" stroke="#acacac" stroke-width="1.1"/><line x1="107.00" y1="225.4" x2="110.20" y2="225.4" stroke="#8a8a8a" stroke-width="0.8"/><line x1="107.00" y1="275" x2="110.20" y2="275" stroke="#8a8a8a" stroke-width="0.8"/><line x1="109.9" y1="216.2" x2="109.9" y2="270" stroke="#acacac" stroke-width="1.1"/><line x1="108.30" y1="216.2" x2="111.50" y2="216.2" stroke="#8a8a8a" stroke-width="0.8"/><line x1="108.30" y1="270" x2="111.50" y2="270" stroke="#8a8a8a" stroke-width="0.8"/><line x1="109.9" y1="245" x2="109.9" y2="282" stroke="#acacac" stroke-width="1.1"/><line x1="108.30" y1="245" x2="111.50" y2="245" stroke="#8a8a8a" stroke-width="0.8"/><line x1="108.30" y1="282" x2="111.50" y2="282" stroke="#8a8a8a" stroke-width="0.8"/><line x1="109.5" y1="250" x2="109.5" y2="302.1" stroke="#acacac" stroke-width="1.1"/><line x1="107.90" y1="250" x2="111.10" y2="250" stroke="#8a8a8a" stroke-width="0.8"/><line x1="116.7" y1="241.5" x2="116.7" y2="281.9" stroke="#acacac" stroke-width="1.1"/><line x1="115.10" y1="241.5" x2="118.30" y2="241.5" stroke="#8a8a8a" stroke-width="0.8"/><line x1="115.10" y1="281.9" x2="118.30" y2="281.9" stroke="#8a8a8a" stroke-width="0.8"/><line x1="118.5" y1="229.8" x2="118.5" y2="271.5" stroke="#acacac" stroke-width="1.1"/><line x1="116.90" y1="229.8" x2="120.10" y2="229.8" stroke="#8a8a8a" stroke-width="0.8"/><line x1="116.90" y1="271.5" x2="120.10" y2="271.5" stroke="#8a8a8a" stroke-width="0.8"/><line x1="118.3" y1="240" x2="118.3" y2="273.4" stroke="#acacac" stroke-width="1.1"/><line x1="116.70" y1="240" x2="119.90" y2="240" stroke="#8a8a8a" stroke-width="0.8"/><line x1="116.70" y1="273.4" x2="119.90" y2="273.4" stroke="#8a8a8a" stroke-width="0.8"/><line x1="119.1" y1="219.9" x2="119.1" y2="265" stroke="#acacac" stroke-width="1.1"/><line x1="117.50" y1="219.9" x2="120.70" y2="219.9" stroke="#8a8a8a" stroke-width="0.8"/><line x1="117.50" y1="265" x2="120.70" y2="265" stroke="#8a8a8a" stroke-width="0.8"/><line x1="121.2" y1="206.8" x2="121.2" y2="255" stroke="#acacac" stroke-width="1.1"/><line x1="119.60" y1="206.8" x2="122.80" y2="206.8" stroke="#8a8a8a" stroke-width="0.8"/><line x1="119.60" y1="255" x2="122.80" y2="255" stroke="#8a8a8a" stroke-width="0.8"/><line x1="124.4" y1="167.0" x2="124.4" y2="212.7" stroke="#acacac" stroke-width="1.1"/><line x1="122.80" y1="212.7" x2="126.00" y2="212.7" stroke="#8a8a8a" stroke-width="0.8"/><line x1="124.1" y1="232.5" x2="124.1" y2="276.5" stroke="#acacac" stroke-width="1.1"/><line x1="122.50" y1="232.5" x2="125.70" y2="232.5" stroke="#8a8a8a" stroke-width="0.8"/><line x1="122.50" y1="276.5" x2="125.70" y2="276.5" stroke="#8a8a8a" stroke-width="0.8"/><line x1="124.1" y1="255" x2="124.1" y2="288.6" stroke="#acacac" stroke-width="1.1"/><line x1="122.50" y1="255" x2="125.70" y2="255" stroke="#8a8a8a" stroke-width="0.8"/><line x1="122.50" y1="288.6" x2="125.70" y2="288.6" stroke="#8a8a8a" stroke-width="0.8"/><line x1="126.5" y1="245" x2="126.5" y2="263.5" stroke="#acacac" stroke-width="1.1"/><line x1="124.90" y1="245" x2="128.10" y2="245" stroke="#8a8a8a" stroke-width="0.8"/><line x1="124.90" y1="263.5" x2="128.10" y2="263.5" stroke="#8a8a8a" stroke-width="0.8"/><line x1="128.1" y1="190" x2="128.1" y2="265" stroke="#acacac" stroke-width="1.1"/><line x1="126.50" y1="190" x2="129.70" y2="190" stroke="#8a8a8a" stroke-width="0.8"/><line x1="126.50" y1="265" x2="129.70" y2="265" stroke="#8a8a8a" stroke-width="0.8"/><line x1="130.9" y1="199.4" x2="130.9" y2="266.8" stroke="#acacac" stroke-width="1.1"/><line x1="129.30" y1="199.4" x2="132.50" y2="199.4" stroke="#8a8a8a" stroke-width="0.8"/><line x1="129.30" y1="266.8" x2="132.50" y2="266.8" stroke="#8a8a8a" stroke-width="0.8"/><line x1="134.8" y1="245" x2="134.8" y2="263.5" stroke="#acacac" stroke-width="1.1"/><line x1="133.20" y1="245" x2="136.40" y2="245" stroke="#8a8a8a" stroke-width="0.8"/><line x1="133.20" y1="263.5" x2="136.40" y2="263.5" stroke="#8a8a8a" stroke-width="0.8"/><line x1="135.2" y1="218.4" x2="135.2" y2="265" stroke="#acacac" stroke-width="1.1"/><line x1="133.60" y1="218.4" x2="136.80" y2="218.4" stroke="#8a8a8a" stroke-width="0.8"/><line x1="133.60" y1="265" x2="136.80" y2="265" stroke="#8a8a8a" stroke-width="0.8"/><line x1="138.3" y1="223" x2="138.3" y2="260" stroke="#acacac" stroke-width="1.1"/><line x1="136.70" y1="223" x2="139.90" y2="223" stroke="#8a8a8a" stroke-width="0.8"/><line x1="136.70" y1="260" x2="139.90" y2="260" stroke="#8a8a8a" stroke-width="0.8"/><line x1="139.8" y1="241.9" x2="139.8" y2="262.6" stroke="#acacac" stroke-width="1.1"/><line x1="138.20" y1="241.9" x2="141.40" y2="241.9" stroke="#8a8a8a" stroke-width="0.8"/><line x1="138.20" y1="262.6" x2="141.40" y2="262.6" stroke="#8a8a8a" stroke-width="0.8"/><line x1="143.8" y1="251.5" x2="143.8" y2="263" stroke="#acacac" stroke-width="1.1"/><line x1="142.20" y1="251.5" x2="145.40" y2="251.5" stroke="#8a8a8a" stroke-width="0.8"/><line x1="142.20" y1="263" x2="145.40" y2="263" stroke="#8a8a8a" stroke-width="0.8"/><line x1="155.8" y1="213.2" x2="155.8" y2="250.5" stroke="#acacac" stroke-width="1.1"/><line x1="154.20" y1="213.2" x2="157.40" y2="213.2" stroke="#8a8a8a" stroke-width="0.8"/><line x1="154.20" y1="250.5" x2="157.40" y2="250.5" stroke="#8a8a8a" stroke-width="0.8"/><line x1="155.7" y1="255.3" x2="155.7" y2="302.1" stroke="#acacac" stroke-width="1.1"/><line x1="154.10" y1="255.3" x2="157.30" y2="255.3" stroke="#8a8a8a" stroke-width="0.8"/><circle cx="58.9" cy="257.4" r="2.5" fill="#349e62"/><circle cx="74.6" cy="256.9" r="2.5" fill="#349e62"/><circle cx="78.3" cy="256.5" r="2.5" fill="#349e62"/><circle cx="79.3" cy="257.4" r="2.5" fill="#349e62"/><circle cx="81.4" cy="242.3" r="2.5" fill="#349e62"/><circle cx="84.8" cy="213.6" r="2.5" fill="#349e62"/><circle cx="84.3" cy="257.2" r="2.5" fill="#349e62"/><circle cx="88.2" cy="241.7" r="2.5" fill="#349e62"/><circle cx="88.5" cy="256.9" r="2.5" fill="#349e62"/><circle cx="90.1" cy="247.0" r="2.5" fill="#349e62"/><circle cx="91.9" cy="256.9" r="2.5" fill="#349e62"/><circle cx="92.5" cy="254.4" r="2.5" fill="#349e62"/><circle cx="97.9" cy="248.5" r="2.5" fill="#349e62"/><circle cx="104.3" cy="258.3" r="2.5" fill="#349e62"/><circle cx="104.3" cy="263.8" r="2.5" fill="#349e62"/><circle cx="108.6" cy="249.7" r="2.5" fill="#349e62"/><circle cx="109.9" cy="252.7" r="2.5" fill="#349e62"/><circle cx="109.9" cy="260.4" r="2.5" fill="#349e62"/><circle cx="109.5" cy="269.0" r="2.5" fill="#349e62"/><circle cx="116.7" cy="262.0" r="2.5" fill="#349e62"/><circle cx="118.5" cy="247.5" r="2.5" fill="#349e62"/><circle cx="118.3" cy="257.1" r="2.5" fill="#349e62"/><circle cx="119.1" cy="245.8" r="2.5" fill="#349e62"/><circle cx="121.2" cy="240.0" r="2.5" fill="#349e62"/><circle cx="124.4" cy="187.9" r="2.5" fill="#349e62"/><circle cx="124.1" cy="254.3" r="2.5" fill="#349e62"/><circle cx="124.1" cy="269.5" r="2.5" fill="#349e62"/><circle cx="126.5" cy="255.1" r="2.5" fill="#349e62"/><circle cx="128.1" cy="224.2" r="2.5" fill="#349e62"/><circle cx="130.9" cy="232.8" r="2.5" fill="#349e62"/><circle cx="134.8" cy="253.9" r="2.5" fill="#349e62"/><circle cx="135.2" cy="241.0" r="2.5" fill="#349e62"/><circle cx="138.3" cy="234.0" r="2.5" fill="#349e62"/><circle cx="139.8" cy="252.5" r="2.5" fill="#349e62"/><circle cx="143.8" cy="257.2" r="2.5" fill="#349e62"/><circle cx="155.8" cy="232.7" r="2.5" fill="#349e62"/><circle cx="155.7" cy="279.3" r="2.5" fill="#349e62"/><path d="M39.0 302.10h3.0M176.6 302.10h-3.0M39.0 296.47h1.5M176.6 296.47h-1.5M39.0 290.84h1.5M176.6 290.84h-1.5M39.0 285.21h1.5M176.6 285.21h-1.5M39.0 279.58h3.0M176.6 279.58h-3.0M39.0 273.95h1.5M176.6 273.95h-1.5M39.0 268.33h1.5M176.6 268.33h-1.5M39.0 262.70h1.5M176.6 262.70h-1.5M39.0 257.07h3.0M176.6 257.07h-3.0M39.0 251.44h1.5M176.6 251.44h-1.5M39.0 245.81h1.5M176.6 245.81h-1.5M39.0 240.18h1.5M176.6 240.18h-1.5M39.0 234.55h3.0M176.6 234.55h-3.0M39.0 228.92h1.5M176.6 228.92h-1.5M39.0 223.29h1.5M176.6 223.29h-1.5M39.0 217.66h1.5M176.6 217.66h-1.5M39.0 212.03h3.0M176.6 212.03h-3.0M39.0 206.40h1.5M176.6 206.40h-1.5M39.0 200.78h1.5M176.6 200.78h-1.5M39.0 195.15h1.5M176.6 195.15h-1.5M39.0 189.52h3.0M176.6 189.52h-3.0M39.0 183.89h1.5M176.6 183.89h-1.5M39.0 178.26h1.5M176.6 178.26h-1.5M39.0 172.63h1.5M176.6 172.63h-1.5M39.0 167.00h3.0M176.6 167.00h-3.0M39.00 302.1v-1.5M39.00 167.0v1.5M51.12 302.1v-1.5M51.12 167.0v1.5M59.71 302.1v-1.5M59.71 167.0v1.5M66.38 302.1v-1.5M66.38 167.0v1.5M71.83 302.1v-1.5M71.83 167.0v1.5M76.43 302.1v-1.5M76.43 167.0v1.5M80.42 302.1v-1.5M80.42 167.0v1.5M83.94 302.1v-1.5M83.94 167.0v1.5M87.09 302.1v-3.0M87.09 167.0v3.0M107.80 302.1v-1.5M107.80 167.0v1.5M119.92 302.1v-1.5M119.92 167.0v1.5M128.51 302.1v-1.5M128.51 167.0v1.5M135.18 302.1v-1.5M135.18 167.0v1.5M140.63 302.1v-1.5M140.63 167.0v1.5M145.23 302.1v-1.5M145.23 167.0v1.5M149.22 302.1v-1.5M149.22 167.0v1.5M152.74 302.1v-1.5M152.74 167.0v1.5M155.89 302.1v-3.0M155.89 167.0v3.0M176.60 302.1v-1.5M176.60 167.0v1.5" stroke="#8a8a8a" stroke-width="0.7" fill="none"/><rect x="39.0" y="167.0" width="137.6" height="135.10000000000002" fill="none" stroke="#686868" stroke-width="1.3"/><text x="36.70" y="169.50" text-anchor="end" font-size="9.6" textLength="13.61" lengthAdjust="spacing" class="tl">0.8</text><text x="36.70" y="192.02" text-anchor="end" font-size="9.6" textLength="13.61" lengthAdjust="spacing" class="tl">0.6</text><text x="36.70" y="214.53" text-anchor="end" font-size="9.6" textLength="13.61" lengthAdjust="spacing" class="tl">0.4</text><text x="36.70" y="237.05" text-anchor="end" font-size="9.6" textLength="13.61" lengthAdjust="spacing" class="tl">0.2</text><text x="36.70" y="259.57" text-anchor="end" font-size="9.6" textLength="13.61" lengthAdjust="spacing" class="tl">0.0</text><text x="36.70" y="282.08" text-anchor="end" font-size="9.6" textLength="20.78" lengthAdjust="spacing" class="tl">−0.2</text><text x="36.70" y="304.60" text-anchor="end" font-size="9.6" textLength="20.78" lengthAdjust="spacing" class="tl">−0.4</text><text x="87.09" y="311.00" text-anchor="middle" font-size="9.6" textLength="13.61" lengthAdjust="spacing" class="tl">0.1</text><text x="155.89" y="311.00" text-anchor="middle" font-size="9.6" textLength="13.61" lengthAdjust="spacing" class="tl">1.0</text><text x="97.60" y="322.70" font-size="9.4" class="yl">f</text><text x="100.90" y="323.40" font-size="7.0" textLength="10.8" lengthAdjust="spacingAndGlyphs" class="yl">em,</text><text x="113.10" y="323.40" font-size="7.0" textLength="4.6" lengthAdjust="spacingAndGlyphs" class="yl">K</text><g transform="translate(11.20,310.20) rotate(-90)"><text x="0.00" y="0" font-size="8.86" textLength="6.12" lengthAdjust="spacingAndGlyphs" class="yl">Δ</text><text x="8.97" y="0" font-size="8.86" textLength="6.12" lengthAdjust="spacingAndGlyphs" class="yl">A</text><text x="15.09" y="1.5" font-size="6.20" textLength="4.29" lengthAdjust="spacingAndGlyphs" class="yl">V</text><text x="22.22" y="0" font-size="8.86" textLength="46.37" lengthAdjust="spacingAndGlyphs" class="yl">(corrected</text><text x="71.44" y="0" font-size="8.86" textLength="7.50" lengthAdjust="spacingAndGlyphs" class="yl">−</text><text x="81.78" y="0" font-size="8.86" textLength="36.94" lengthAdjust="spacingAndGlyphs" class="yl">original)</text><text x="121.57" y="0" font-size="8.86" textLength="26.87" lengthAdjust="spacingAndGlyphs" class="yl">[mag]</text></g></g>
<g><line x1="218.3" y1="229.40" x2="355.4" y2="229.40" stroke="#707070" stroke-width="1.1" stroke-dasharray="3.4 2.8" stroke-dashoffset="0.2"/><line x1="238.4" y1="215.7" x2="238.4" y2="243.5" stroke="#acacac" stroke-width="1.1"/><line x1="236.80" y1="215.7" x2="240.00" y2="215.7" stroke="#8a8a8a" stroke-width="0.8"/><line x1="236.80" y1="243.5" x2="240.00" y2="243.5" stroke="#8a8a8a" stroke-width="0.8"/><line x1="253.9" y1="224" x2="253.9" y2="234" stroke="#acacac" stroke-width="1.1"/><line x1="252.30" y1="224" x2="255.50" y2="224" stroke="#8a8a8a" stroke-width="0.8"/><line x1="252.30" y1="234" x2="255.50" y2="234" stroke="#8a8a8a" stroke-width="0.8"/><line x1="256.6" y1="222.9" x2="256.6" y2="244.7" stroke="#acacac" stroke-width="1.1"/><line x1="255.00" y1="222.9" x2="258.20" y2="222.9" stroke="#8a8a8a" stroke-width="0.8"/><line x1="255.00" y1="244.7" x2="258.20" y2="244.7" stroke="#8a8a8a" stroke-width="0.8"/><line x1="258.5" y1="223" x2="258.5" y2="234" stroke="#acacac" stroke-width="1.1"/><line x1="256.90" y1="223" x2="260.10" y2="223" stroke="#8a8a8a" stroke-width="0.8"/><line x1="256.90" y1="234" x2="260.10" y2="234" stroke="#8a8a8a" stroke-width="0.8"/><line x1="260.6" y1="221.3" x2="260.6" y2="240.4" stroke="#acacac" stroke-width="1.1"/><line x1="259.00" y1="221.3" x2="262.20" y2="221.3" stroke="#8a8a8a" stroke-width="0.8"/><line x1="259.00" y1="240.4" x2="262.20" y2="240.4" stroke="#8a8a8a" stroke-width="0.8"/><line x1="263.8" y1="220.4" x2="263.8" y2="253.7" stroke="#acacac" stroke-width="1.1"/><line x1="262.20" y1="220.4" x2="265.40" y2="220.4" stroke="#8a8a8a" stroke-width="0.8"/><line x1="262.20" y1="253.7" x2="265.40" y2="253.7" stroke="#8a8a8a" stroke-width="0.8"/><line x1="263.8" y1="228" x2="263.8" y2="245" stroke="#acacac" stroke-width="1.1"/><line x1="262.20" y1="228" x2="265.40" y2="228" stroke="#8a8a8a" stroke-width="0.8"/><line x1="262.20" y1="245" x2="265.40" y2="245" stroke="#8a8a8a" stroke-width="0.8"/><line x1="267.5" y1="223.7" x2="267.5" y2="236" stroke="#acacac" stroke-width="1.1"/><line x1="265.90" y1="223.7" x2="269.10" y2="223.7" stroke="#8a8a8a" stroke-width="0.8"/><line x1="265.90" y1="236" x2="269.10" y2="236" stroke="#8a8a8a" stroke-width="0.8"/><line x1="266.8" y1="226" x2="266.8" y2="238" stroke="#acacac" stroke-width="1.1"/><line x1="265.20" y1="226" x2="268.40" y2="226" stroke="#8a8a8a" stroke-width="0.8"/><line x1="265.20" y1="238" x2="268.40" y2="238" stroke="#8a8a8a" stroke-width="0.8"/><line x1="270.0" y1="224.3" x2="270.0" y2="242.2" stroke="#acacac" stroke-width="1.1"/><line x1="268.40" y1="224.3" x2="271.60" y2="224.3" stroke="#8a8a8a" stroke-width="0.8"/><line x1="268.40" y1="242.2" x2="271.60" y2="242.2" stroke="#8a8a8a" stroke-width="0.8"/><line x1="271.5" y1="218.8" x2="271.5" y2="237.9" stroke="#acacac" stroke-width="1.1"/><line x1="269.90" y1="218.8" x2="273.10" y2="218.8" stroke="#8a8a8a" stroke-width="0.8"/><line x1="269.90" y1="237.9" x2="273.10" y2="237.9" stroke="#8a8a8a" stroke-width="0.8"/><line x1="277.4" y1="222.5" x2="277.4" y2="258.3" stroke="#acacac" stroke-width="1.1"/><line x1="275.80" y1="222.5" x2="279.00" y2="222.5" stroke="#8a8a8a" stroke-width="0.8"/><line x1="275.80" y1="258.3" x2="279.00" y2="258.3" stroke="#8a8a8a" stroke-width="0.8"/><line x1="283.3" y1="216.3" x2="283.3" y2="248.1" stroke="#acacac" stroke-width="1.1"/><line x1="281.70" y1="216.3" x2="284.90" y2="216.3" stroke="#8a8a8a" stroke-width="0.8"/><line x1="281.70" y1="248.1" x2="284.90" y2="248.1" stroke="#8a8a8a" stroke-width="0.8"/><line x1="283.8" y1="226" x2="283.8" y2="240" stroke="#acacac" stroke-width="1.1"/><line x1="282.20" y1="226" x2="285.40" y2="226" stroke="#8a8a8a" stroke-width="0.8"/><line x1="282.20" y1="240" x2="285.40" y2="240" stroke="#8a8a8a" stroke-width="0.8"/><line x1="288.6" y1="198.6" x2="288.6" y2="231" stroke="#acacac" stroke-width="1.1"/><line x1="287.00" y1="198.6" x2="290.20" y2="198.6" stroke="#8a8a8a" stroke-width="0.8"/><line x1="287.00" y1="231" x2="290.20" y2="231" stroke="#8a8a8a" stroke-width="0.8"/><line x1="288.0" y1="225.9" x2="288.0" y2="238" stroke="#acacac" stroke-width="1.1"/><line x1="286.40" y1="225.9" x2="289.60" y2="225.9" stroke="#8a8a8a" stroke-width="0.8"/><line x1="286.40" y1="238" x2="289.60" y2="238" stroke="#8a8a8a" stroke-width="0.8"/><line x1="289.3" y1="228" x2="289.3" y2="245" stroke="#acacac" stroke-width="1.1"/><line x1="287.70" y1="228" x2="290.90" y2="228" stroke="#8a8a8a" stroke-width="0.8"/><line x1="287.70" y1="245" x2="290.90" y2="245" stroke="#8a8a8a" stroke-width="0.8"/><line x1="288.0" y1="233" x2="288.0" y2="257.6" stroke="#acacac" stroke-width="1.1"/><line x1="286.40" y1="233" x2="289.60" y2="233" stroke="#8a8a8a" stroke-width="0.8"/><line x1="286.40" y1="257.6" x2="289.60" y2="257.6" stroke="#8a8a8a" stroke-width="0.8"/><line x1="295.4" y1="218.5" x2="295.4" y2="247.2" stroke="#acacac" stroke-width="1.1"/><line x1="293.80" y1="218.5" x2="297.00" y2="218.5" stroke="#8a8a8a" stroke-width="0.8"/><line x1="293.80" y1="247.2" x2="297.00" y2="247.2" stroke="#8a8a8a" stroke-width="0.8"/><line x1="297.4" y1="235" x2="297.4" y2="252" stroke="#acacac" stroke-width="1.1"/><line x1="295.80" y1="235" x2="299.00" y2="235" stroke="#8a8a8a" stroke-width="0.8"/><line x1="295.80" y1="252" x2="299.00" y2="252" stroke="#8a8a8a" stroke-width="0.8"/><line x1="298.0" y1="238" x2="298.0" y2="255" stroke="#acacac" stroke-width="1.1"/><line x1="296.40" y1="238" x2="299.60" y2="238" stroke="#8a8a8a" stroke-width="0.8"/><line x1="296.40" y1="255" x2="299.60" y2="255" stroke="#8a8a8a" stroke-width="0.8"/><line x1="299.1" y1="233" x2="299.1" y2="250" stroke="#acacac" stroke-width="1.1"/><line x1="297.50" y1="233" x2="300.70" y2="233" stroke="#8a8a8a" stroke-width="0.8"/><line x1="297.50" y1="250" x2="300.70" y2="250" stroke="#8a8a8a" stroke-width="0.8"/><line x1="300.0" y1="240" x2="300.0" y2="267.4" stroke="#acacac" stroke-width="1.1"/><line x1="298.40" y1="240" x2="301.60" y2="240" stroke="#8a8a8a" stroke-width="0.8"/><line x1="298.40" y1="267.4" x2="301.60" y2="267.4" stroke="#8a8a8a" stroke-width="0.8"/><line x1="302.9" y1="218.1" x2="302.9" y2="237" stroke="#acacac" stroke-width="1.1"/><line x1="301.30" y1="218.1" x2="304.50" y2="218.1" stroke="#8a8a8a" stroke-width="0.8"/><line x1="301.30" y1="237" x2="304.50" y2="237" stroke="#8a8a8a" stroke-width="0.8"/><line x1="305.3" y1="225" x2="305.3" y2="242" stroke="#acacac" stroke-width="1.1"/><line x1="303.70" y1="225" x2="306.90" y2="225" stroke="#8a8a8a" stroke-width="0.8"/><line x1="303.70" y1="242" x2="306.90" y2="242" stroke="#8a8a8a" stroke-width="0.8"/><line x1="303.4" y1="229" x2="303.4" y2="246" stroke="#acacac" stroke-width="1.1"/><line x1="301.80" y1="229" x2="305.00" y2="229" stroke="#8a8a8a" stroke-width="0.8"/><line x1="301.80" y1="246" x2="305.00" y2="246" stroke="#8a8a8a" stroke-width="0.8"/><line x1="303.7" y1="253" x2="303.7" y2="263.1" stroke="#acacac" stroke-width="1.1"/><line x1="302.10" y1="253" x2="305.30" y2="253" stroke="#8a8a8a" stroke-width="0.8"/><line x1="302.10" y1="263.1" x2="305.30" y2="263.1" stroke="#8a8a8a" stroke-width="0.8"/><line x1="307.3" y1="260.4" x2="307.3" y2="302.2" stroke="#acacac" stroke-width="1.1"/><line x1="305.70" y1="260.4" x2="308.90" y2="260.4" stroke="#8a8a8a" stroke-width="0.8"/><line x1="310.0" y1="236.1" x2="310.0" y2="269.3" stroke="#acacac" stroke-width="1.1"/><line x1="308.40" y1="236.1" x2="311.60" y2="236.1" stroke="#8a8a8a" stroke-width="0.8"/><line x1="308.40" y1="269.3" x2="311.60" y2="269.3" stroke="#8a8a8a" stroke-width="0.8"/><line x1="313.9" y1="235.2" x2="313.9" y2="253" stroke="#acacac" stroke-width="1.1"/><line x1="312.30" y1="235.2" x2="315.50" y2="235.2" stroke="#8a8a8a" stroke-width="0.8"/><line x1="312.30" y1="253" x2="315.50" y2="253" stroke="#8a8a8a" stroke-width="0.8"/><line x1="314.1" y1="248" x2="314.1" y2="269.6" stroke="#acacac" stroke-width="1.1"/><line x1="312.50" y1="248" x2="315.70" y2="248" stroke="#8a8a8a" stroke-width="0.8"/><line x1="312.50" y1="269.6" x2="315.70" y2="269.6" stroke="#8a8a8a" stroke-width="0.8"/><line x1="317.6" y1="248.2" x2="317.6" y2="260" stroke="#acacac" stroke-width="1.1"/><line x1="316.00" y1="248.2" x2="319.20" y2="248.2" stroke="#8a8a8a" stroke-width="0.8"/><line x1="316.00" y1="260" x2="319.20" y2="260" stroke="#8a8a8a" stroke-width="0.8"/><line x1="319.3" y1="255.7" x2="319.3" y2="280.3" stroke="#acacac" stroke-width="1.1"/><line x1="317.70" y1="255.7" x2="320.90" y2="255.7" stroke="#8a8a8a" stroke-width="0.8"/><line x1="317.70" y1="280.3" x2="320.90" y2="280.3" stroke="#8a8a8a" stroke-width="0.8"/><line x1="323.0" y1="268.7" x2="323.0" y2="294.5" stroke="#acacac" stroke-width="1.1"/><line x1="321.40" y1="268.7" x2="324.60" y2="268.7" stroke="#8a8a8a" stroke-width="0.8"/><line x1="321.40" y1="294.5" x2="324.60" y2="294.5" stroke="#8a8a8a" stroke-width="0.8"/><line x1="334.9" y1="167.0" x2="334.9" y2="207.6" stroke="#acacac" stroke-width="1.1"/><line x1="333.30" y1="207.6" x2="336.50" y2="207.6" stroke="#8a8a8a" stroke-width="0.8"/><line x1="335.1" y1="258.9" x2="335.1" y2="302.2" stroke="#acacac" stroke-width="1.1"/><line x1="333.50" y1="258.9" x2="336.70" y2="258.9" stroke="#8a8a8a" stroke-width="0.8"/><circle cx="238.4" cy="229.6" r="2.5" fill="#8275ee"/><circle cx="253.9" cy="229.0" r="2.5" fill="#8275ee"/><circle cx="256.6" cy="234.0" r="2.5" fill="#8275ee"/><circle cx="258.5" cy="228.7" r="2.5" fill="#8275ee"/><circle cx="260.6" cy="230.8" r="2.5" fill="#8275ee"/><circle cx="263.8" cy="229.3" r="2.5" fill="#8275ee"/><circle cx="263.8" cy="236.7" r="2.5" fill="#8275ee"/><circle cx="267.5" cy="229.3" r="2.5" fill="#8275ee"/><circle cx="266.8" cy="232.0" r="2.5" fill="#8275ee"/><circle cx="270.0" cy="234.0" r="2.5" fill="#8275ee"/><circle cx="271.5" cy="228.0" r="2.5" fill="#8275ee"/><circle cx="277.4" cy="240.5" r="2.5" fill="#8275ee"/><circle cx="283.3" cy="231.0" r="2.5" fill="#8275ee"/><circle cx="283.8" cy="233.9" r="2.5" fill="#8275ee"/><circle cx="288.6" cy="215.7" r="2.5" fill="#8275ee"/><circle cx="288.0" cy="231.5" r="2.5" fill="#8275ee"/><circle cx="289.3" cy="237.0" r="2.5" fill="#8275ee"/><circle cx="288.0" cy="243.0" r="2.5" fill="#8275ee"/><circle cx="295.4" cy="231.1" r="2.5" fill="#8275ee"/><circle cx="297.4" cy="243.4" r="2.5" fill="#8275ee"/><circle cx="298.0" cy="246.6" r="2.5" fill="#8275ee"/><circle cx="299.1" cy="242.6" r="2.5" fill="#8275ee"/><circle cx="300.0" cy="248.4" r="2.5" fill="#8275ee"/><circle cx="302.9" cy="227.8" r="2.5" fill="#8275ee"/><circle cx="305.3" cy="233.3" r="2.5" fill="#8275ee"/><circle cx="303.4" cy="237.0" r="2.5" fill="#8275ee"/><circle cx="303.7" cy="257.7" r="2.5" fill="#8275ee"/><circle cx="307.3" cy="287.0" r="2.5" fill="#8275ee"/><circle cx="310.0" cy="252.5" r="2.5" fill="#8275ee"/><circle cx="313.9" cy="244.5" r="2.5" fill="#8275ee"/><circle cx="314.1" cy="257.7" r="2.5" fill="#8275ee"/><circle cx="317.6" cy="253.5" r="2.5" fill="#8275ee"/><circle cx="319.3" cy="265.9" r="2.5" fill="#8275ee"/><circle cx="323.0" cy="281.6" r="2.5" fill="#8275ee"/><circle cx="334.9" cy="181.7" r="2.5" fill="#8275ee"/><circle cx="335.1" cy="287.0" r="2.5" fill="#8275ee"/><path d="M218.3 302.20h1.5M355.4 302.20h-1.5M218.3 298.73h3.0M355.4 298.73h-3.0M218.3 295.27h1.5M355.4 295.27h-1.5M218.3 291.80h1.5M355.4 291.80h-1.5M218.3 288.33h1.5M355.4 288.33h-1.5M218.3 284.87h1.5M355.4 284.87h-1.5M218.3 281.40h3.0M355.4 281.40h-3.0M218.3 277.93h1.5M355.4 277.93h-1.5M218.3 274.47h1.5M355.4 274.47h-1.5M218.3 271.00h1.5M355.4 271.00h-1.5M218.3 267.53h1.5M355.4 267.53h-1.5M218.3 264.07h3.0M355.4 264.07h-3.0M218.3 260.60h1.5M355.4 260.60h-1.5M218.3 257.13h1.5M355.4 257.13h-1.5M218.3 253.67h1.5M355.4 253.67h-1.5M218.3 250.20h1.5M355.4 250.20h-1.5M218.3 246.73h3.0M355.4 246.73h-3.0M218.3 243.27h1.5M355.4 243.27h-1.5M218.3 239.80h1.5M355.4 239.80h-1.5M218.3 236.33h1.5M355.4 236.33h-1.5M218.3 232.87h1.5M355.4 232.87h-1.5M218.3 229.40h3.0M355.4 229.40h-3.0M218.3 225.93h1.5M355.4 225.93h-1.5M218.3 222.47h1.5M355.4 222.47h-1.5M218.3 219.00h1.5M355.4 219.00h-1.5M218.3 215.53h1.5M355.4 215.53h-1.5M218.3 212.07h3.0M355.4 212.07h-3.0M218.3 208.60h1.5M355.4 208.60h-1.5M218.3 205.13h1.5M355.4 205.13h-1.5M218.3 201.67h1.5M355.4 201.67h-1.5M218.3 198.20h1.5M355.4 198.20h-1.5M218.3 194.73h3.0M355.4 194.73h-3.0M218.3 191.27h1.5M355.4 191.27h-1.5M218.3 187.80h1.5M355.4 187.80h-1.5M218.3 184.33h1.5M355.4 184.33h-1.5M218.3 180.87h1.5M355.4 180.87h-1.5M218.3 177.40h3.0M355.4 177.40h-3.0M218.3 173.93h1.5M355.4 173.93h-1.5M218.3 170.47h1.5M355.4 170.47h-1.5M218.3 167.00h1.5M355.4 167.00h-1.5M218.30 302.2v-1.5M218.30 167.0v1.5M230.37 302.2v-1.5M230.37 167.0v1.5M238.94 302.2v-1.5M238.94 167.0v1.5M245.58 302.2v-1.5M245.58 167.0v1.5M251.01 302.2v-1.5M251.01 167.0v1.5M255.60 302.2v-1.5M255.60 167.0v1.5M259.57 302.2v-1.5M259.57 167.0v1.5M263.08 302.2v-1.5M263.08 167.0v1.5M266.21 302.2v-3.0M266.21 167.0v3.0M286.85 302.2v-1.5M286.85 167.0v1.5M298.92 302.2v-1.5M298.92 167.0v1.5M307.49 302.2v-1.5M307.49 167.0v1.5M314.13 302.2v-1.5M314.13 167.0v1.5M319.56 302.2v-1.5M319.56 167.0v1.5M324.15 302.2v-1.5M324.15 167.0v1.5M328.12 302.2v-1.5M328.12 167.0v1.5M331.63 302.2v-1.5M331.63 167.0v1.5M334.76 302.2v-3.0M334.76 167.0v3.0M355.40 302.2v-1.5M355.40 167.0v1.5" stroke="#8a8a8a" stroke-width="0.7" fill="none"/><rect x="218.3" y="167.0" width="137.09999999999997" height="135.2" fill="none" stroke="#686868" stroke-width="1.3"/><text x="216.00" y="179.90" text-anchor="end" font-size="9.6" textLength="13.61" lengthAdjust="spacing" class="tl">1.5</text><text x="216.00" y="197.23" text-anchor="end" font-size="9.6" textLength="13.61" lengthAdjust="spacing" class="tl">1.0</text><text x="216.00" y="214.57" text-anchor="end" font-size="9.6" textLength="13.61" lengthAdjust="spacing" class="tl">0.5</text><text x="216.00" y="231.90" text-anchor="end" font-size="9.6" textLength="13.61" lengthAdjust="spacing" class="tl">0.0</text><text x="216.00" y="249.23" text-anchor="end" font-size="9.6" textLength="20.78" lengthAdjust="spacing" class="tl">−0.5</text><text x="216.00" y="266.57" text-anchor="end" font-size="9.6" textLength="20.78" lengthAdjust="spacing" class="tl">−1.0</text><text x="216.00" y="283.90" text-anchor="end" font-size="9.6" textLength="20.78" lengthAdjust="spacing" class="tl">−1.5</text><text x="216.00" y="301.23" text-anchor="end" font-size="9.6" textLength="20.78" lengthAdjust="spacing" class="tl">−2.0</text><text x="266.21" y="311.10" text-anchor="middle" font-size="9.6" textLength="13.61" lengthAdjust="spacing" class="tl">0.1</text><text x="334.76" y="311.10" text-anchor="middle" font-size="9.6" textLength="13.61" lengthAdjust="spacing" class="tl">1.0</text><text x="276.65" y="322.80" font-size="9.4" class="yl">f</text><text x="279.95" y="323.50" font-size="7.0" textLength="10.8" lengthAdjust="spacingAndGlyphs" class="yl">em,</text><text x="292.15" y="323.50" font-size="7.0" textLength="4.6" lengthAdjust="spacingAndGlyphs" class="yl">K</text><g transform="translate(190.50,306.00) rotate(-90)"><text x="0.00" y="0" font-size="8.86" textLength="6.12" lengthAdjust="spacingAndGlyphs" class="yl">Δ</text><text x="8.97" y="0" font-size="8.86" textLength="13.64" lengthAdjust="spacingAndGlyphs" class="yl">log</text><text x="25.46" y="0" font-size="8.86" textLength="17.31" lengthAdjust="spacingAndGlyphs" class="yl">Age</text><text x="45.61" y="0" font-size="8.86" textLength="46.37" lengthAdjust="spacingAndGlyphs" class="yl">(corrected</text><text x="94.83" y="0" font-size="8.86" textLength="7.50" lengthAdjust="spacingAndGlyphs" class="yl">−</text><text x="105.17" y="0" font-size="8.86" textLength="36.94" lengthAdjust="spacingAndGlyphs" class="yl">original)</text></g></g>
</svg>
</body></html>
